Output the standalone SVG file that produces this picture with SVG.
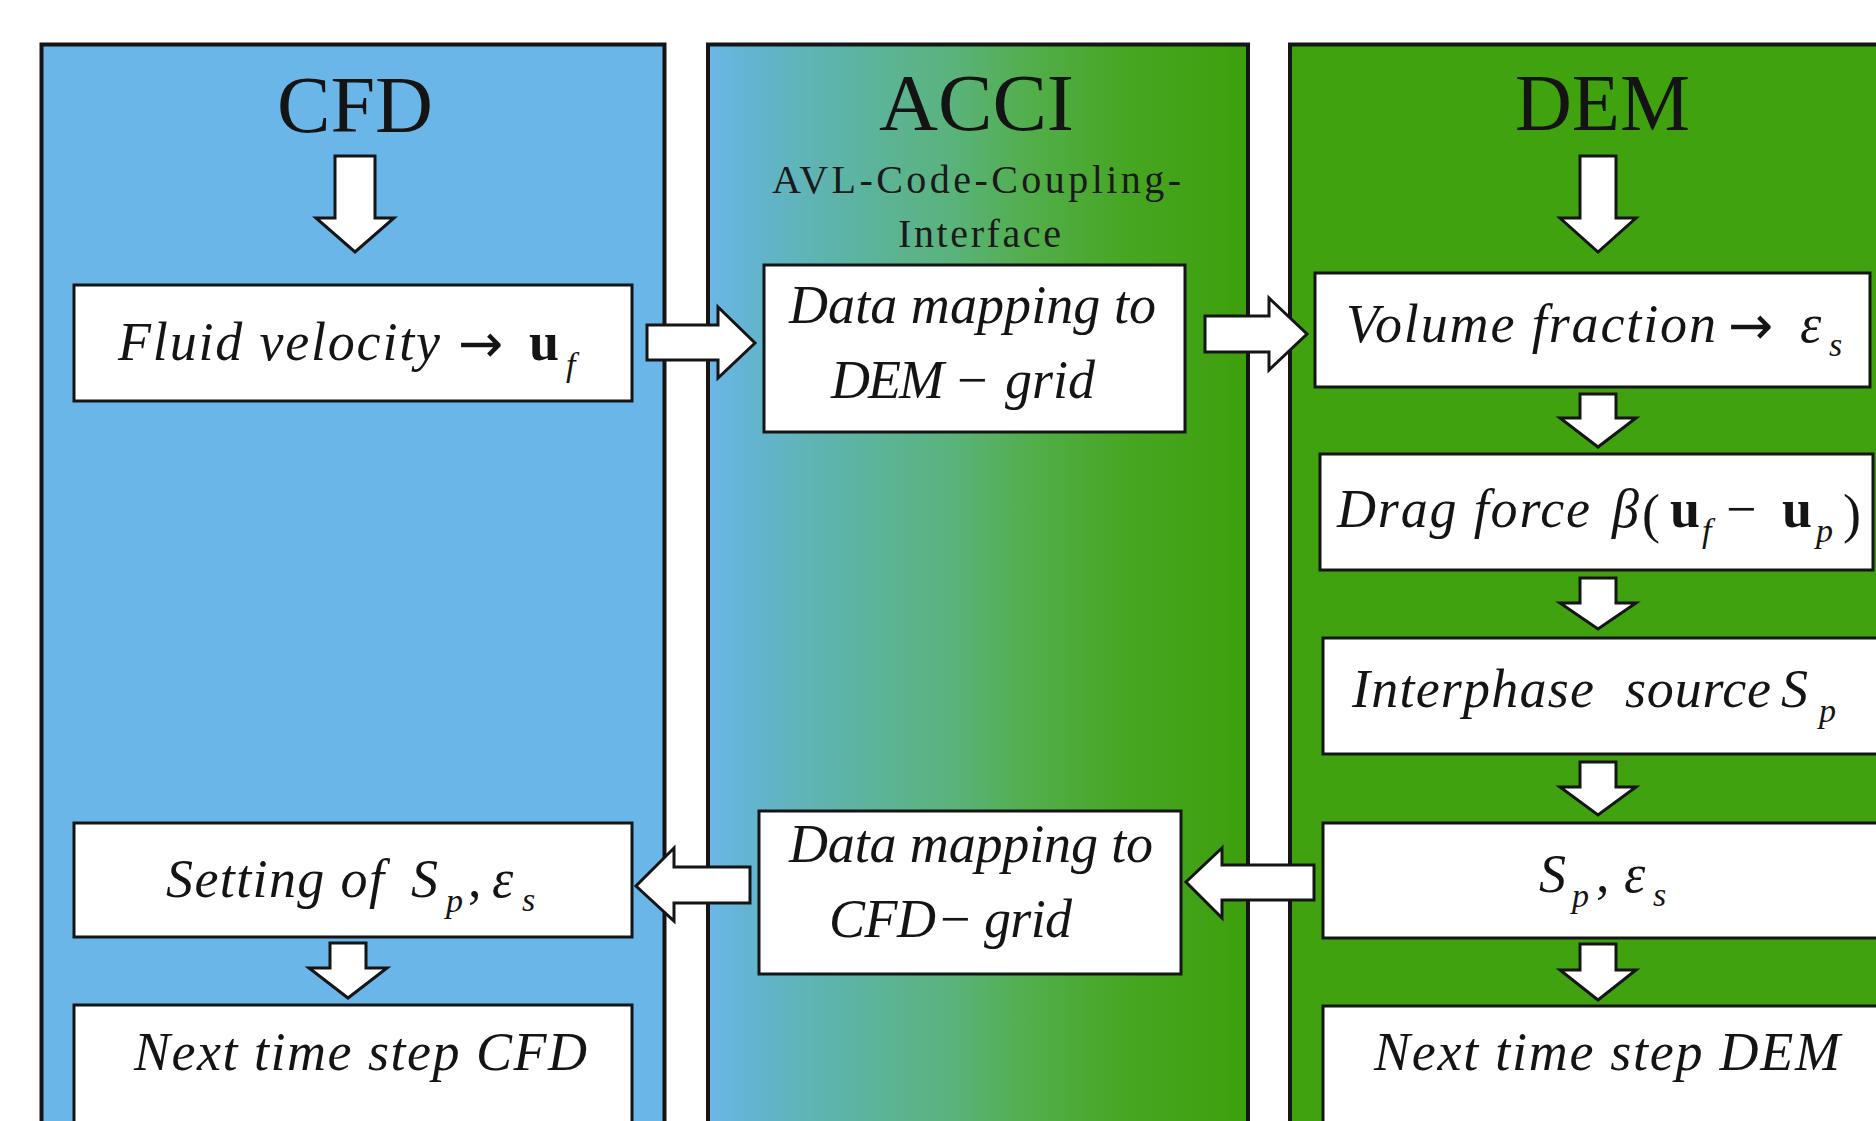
<svg xmlns="http://www.w3.org/2000/svg" width="1876" height="1121" viewBox="0 0 1876 1121">
<defs>
<linearGradient id="acciGrad" x1="0" y1="0" x2="1" y2="0">
<stop offset="0" stop-color="#6bb7e8"/>
<stop offset="0.08" stop-color="#63b4cf"/>
<stop offset="0.25" stop-color="#5db4a6"/>
<stop offset="0.45" stop-color="#5ab37c"/>
<stop offset="0.6" stop-color="#52ae4a"/>
<stop offset="0.78" stop-color="#46a622"/>
<stop offset="1" stop-color="#3e9f0c"/>
</linearGradient>
<style>
.panel{stroke:#151515;stroke-width:4}
.box{fill:#ffffff;stroke:#151515;stroke-width:3}
.arr{fill:#ffffff;stroke:#151515;stroke-width:3;stroke-linejoin:miter}
.title{font-family:"Liberation Serif","Times New Roman",serif;font-size:80px;fill:#141414}
.sub{font-family:"Liberation Serif","Times New Roman",serif;font-size:40px;fill:#1a1a1a}
.it{font-family:"Liberation Serif","Times New Roman",serif;font-size:54px;font-style:italic;fill:#141414}
.rm{font-family:"Liberation Serif","Times New Roman",serif;font-size:54px;fill:#141414}
.ar{font-family:"DejaVu Sans",sans-serif;font-size:54px;fill:#141414}
.bd{font-family:"Liberation Serif","Times New Roman",serif;font-size:54px;font-weight:bold;fill:#141414}
.sb{font-family:"Liberation Serif","Times New Roman",serif;font-size:34px;font-style:italic;fill:#141414}
</style>
</defs>
<rect width="1876" height="1121" fill="#ffffff"/>

<g id="panel-cfd">
<rect class="panel" x="41.5" y="44.5" width="623" height="1110" fill="#6bb6e8"/>
<text class="title" x="277" y="132" textLength="156" lengthAdjust="spacingAndGlyphs">CFD</text>
</g>
<g id="panel-acci">
<rect class="panel" x="708" y="44.5" width="540" height="1110" fill="url(#acciGrad)"/>
<text class="title" x="879" y="130" textLength="195" lengthAdjust="spacingAndGlyphs">ACCI</text>
<text class="sub" x="772" y="193" textLength="409" lengthAdjust="spacing">AVL-Code-Coupling-</text>
<text class="sub" x="898" y="247" textLength="163" lengthAdjust="spacing">Interface</text>
</g>
<g id="panel-dem">
<rect class="panel" x="1290" y="44.5" width="640" height="1110" fill="#3fa20e"/>
<text class="title" x="1515" y="130" textLength="175" lengthAdjust="spacingAndGlyphs">DEM</text>
</g>

<g id="connectors">
<polygon class="arr" points="335,156 375,156 375,218 394,218 355,252 316,218 335,218"/>
<polygon class="arr" points="1580,156 1616,156 1616,218 1636,218 1598,252 1560,218 1580,218"/>
<polygon class="arr" points="647,325 718,325 718,307 755,343 718,378 718,360 647,360"/>
<polygon class="arr" points="1205,316 1269,316 1269,298 1307,334 1269,370 1269,352 1205,352"/>
<polygon class="arr" points="1580,394 1616,394 1616,418 1636,418 1598,447 1560,418 1580,418"/>
<polygon class="arr" points="1580,578 1616,578 1616,603 1636,603 1598,629 1560,603 1580,603"/>
<polygon class="arr" points="1580,762 1616,762 1616,787 1636,787 1598,815 1560,787 1580,787"/>
<polygon class="arr" points="1580,944 1616,944 1616,970 1636,970 1598,1000 1560,970 1580,970"/>
<polygon class="arr" points="1314,865 1222,865 1222,848 1186,882 1222,918 1222,900 1314,900"/>
<polygon class="arr" points="750,867 674,867 674,848 636,886 674,921 674,903 750,903"/>
<polygon class="arr" points="330,943 366,943 366,968 387,968 348,998 309,968 330,968"/>
</g>

<g id="node-fluid-velocity">
<rect class="box" x="74" y="285" width="558" height="116"/>
<text class="it" x="118" y="360" textLength="322" lengthAdjust="spacing">Fluid velocity</text>
<text class="ar" x="458" y="362">→</text>
<text class="bd" x="529" y="360">u</text>
<text class="sb" x="566" y="376">f</text>
</g>

<g id="node-map-dem">
<rect class="box" x="764" y="265" width="421" height="167"/>
<text class="it" x="789" y="323" textLength="367" lengthAdjust="spacing">Data mapping to</text>
<text class="it" x="831" y="398" textLength="113" lengthAdjust="spacing">DEM</text>
<text class="rm" x="957" y="398">−</text>
<text class="it" x="1005" y="398" textLength="90" lengthAdjust="spacing">grid</text>
</g>

<g id="node-volume-fraction">
<rect class="box" x="1315" y="273" width="555" height="114"/>
<text class="it" x="1346" y="342" textLength="370" lengthAdjust="spacing">Volume fraction</text>
<text class="ar" x="1728" y="344" font-size="50">→</text>
<text class="it" x="1800" y="342">ε</text>
<text class="sb" x="1829" y="356">s</text>
</g>

<g id="node-drag-force">
<rect class="box" x="1320" y="454" width="553" height="116"/>
<text class="it" x="1337" y="527" textLength="253" lengthAdjust="spacing">Drag force</text>
<text class="it" x="1612" y="527">β</text>
<text class="rm" x="1642" y="532" font-size="78">(</text>
<text class="bd" x="1670" y="527">u</text>
<text class="sb" x="1702" y="542">f</text>
<text class="rm" x="1726" y="527">−</text>
<text class="bd" x="1782" y="527">u</text>
<text class="sb" x="1816" y="542">p</text>
<text class="rm" x="1843" y="532" font-size="78">)</text>
</g>

<g id="node-interphase">
<rect class="box" x="1323" y="638" width="570" height="116"/>
<text class="it" x="1352" y="707" textLength="242" lengthAdjust="spacing">Interphase</text>
<text class="it" x="1625" y="707" textLength="146" lengthAdjust="spacing">source</text>
<text class="it" x="1781" y="707">S</text>
<text class="sb" x="1819" y="722">p</text>
</g>

<g id="node-sp-es">
<rect class="box" x="1323" y="823" width="570" height="115"/>
<text class="it" x="1539" y="892">S</text>
<text class="sb" x="1572" y="907">p</text>
<text class="rm" x="1596" y="892">,</text>
<text class="it" x="1624" y="892">ε</text>
<text class="sb" x="1653" y="906">s</text>
</g>

<g id="node-map-cfd">
<rect class="box" x="759" y="811" width="422" height="163"/>
<text class="it" x="789" y="862" textLength="364" lengthAdjust="spacing">Data mapping to</text>
<text class="it" x="829" y="937" textLength="107" lengthAdjust="spacing">CFD</text>
<text class="rm" x="940" y="937">−</text>
<text class="it" x="984" y="937" textLength="88" lengthAdjust="spacing">grid</text>
</g>

<g id="node-setting">
<rect class="box" x="74" y="823" width="558" height="114"/>
<text class="it" x="166" y="897" textLength="218" lengthAdjust="spacing">Setting of</text>
<text class="it" x="411" y="897">S</text>
<text class="sb" x="446" y="912">p</text>
<text class="rm" x="468" y="897">,</text>
<text class="it" x="492" y="897">ε</text>
<text class="sb" x="522" y="911">s</text>
</g>

<g id="node-next-cfd">
<rect class="box" x="74" y="1005" width="558" height="150"/>
<text class="it" x="134" y="1070" textLength="453" lengthAdjust="spacing">Next time step CFD</text>
</g>

<g id="node-next-dem">
<rect class="box" x="1323" y="1006" width="570" height="150"/>
<text class="it" x="1374" y="1070" textLength="466" lengthAdjust="spacing">Next time step DEM</text>
</g>
</svg>
